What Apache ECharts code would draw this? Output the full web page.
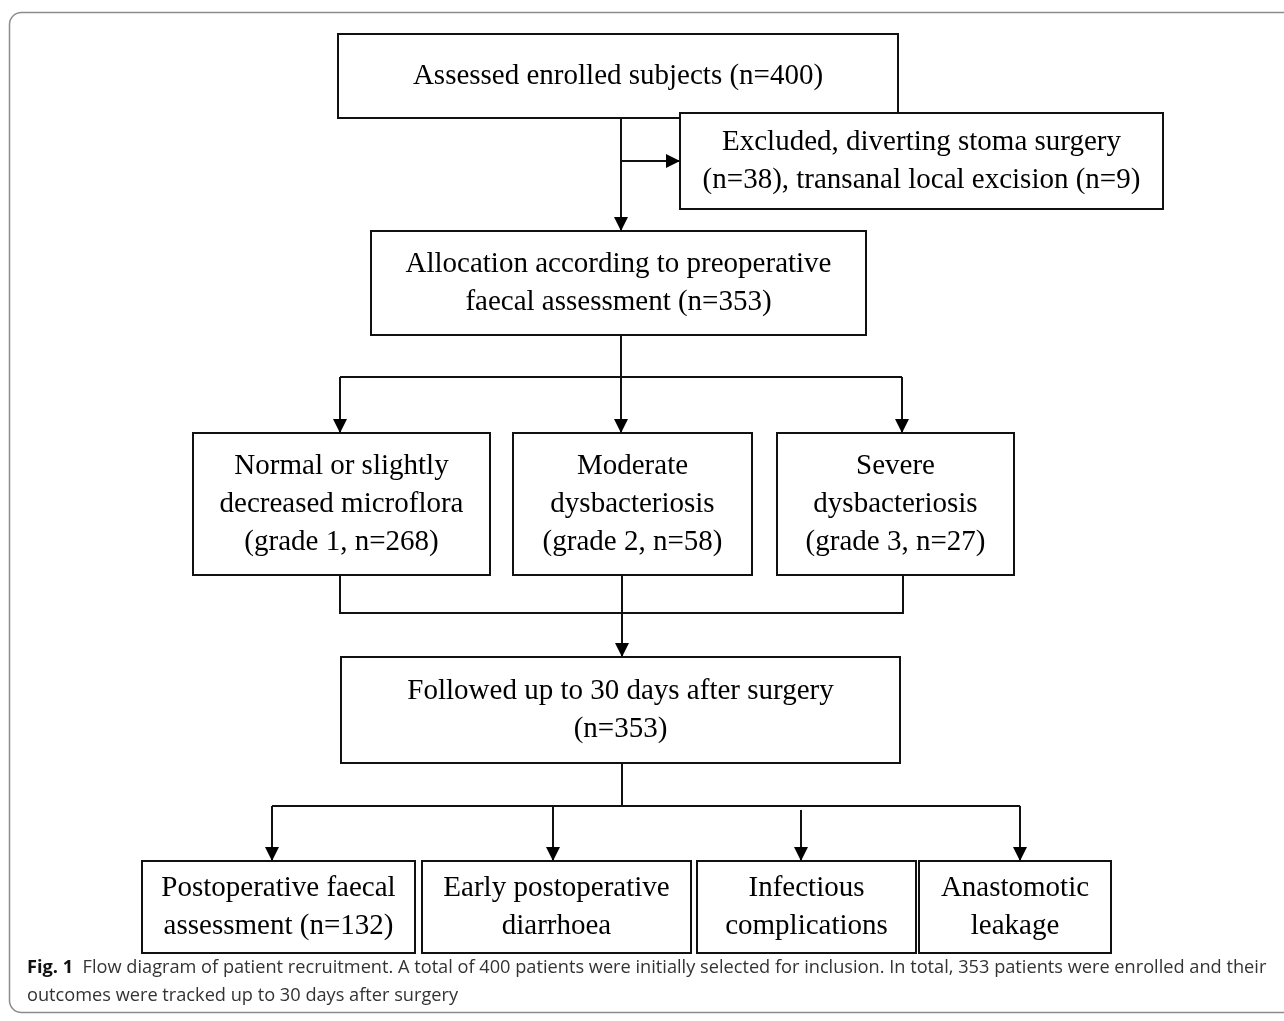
<!DOCTYPE html>
<html>
<head>
<meta charset="utf-8">
<script src="https://cdn.jsdelivr.net/npm/echarts@6/dist/echarts.min.js"></script>
<style>
  html, body { margin: 0; padding: 0; background: #fff; }
  #box { width: 1284px; height: 1021px; }
</style>
</head>
<body>
<div id="box"></div>
<script>
// flow diagram of patient recruitment ------------------------------------------
var boxTexts = [
    'Assessed enrolled subjects (n=400)',
    'Excluded, diverting stoma surgery\n(n=38), transanal local excision (n=9)',
    'Allocation according to preoperative\nfaecal assessment (n=353)',
    'Normal or slightly\ndecreased microflora\n(grade 1, n=268)',
    'Moderate\ndysbacteriosis\n(grade 2, n=58)',
    'Severe\ndysbacteriosis\n(grade 3, n=27)',
    'Followed up to 30 days after surgery\n(n=353)',
    'Postoperative faecal\nassessment (n=132)',
    'Early postoperative\ndiarrhoea',
    'Infectious\ncomplications',
    'Anastomotic\nleakage'
];
var captionLines = [
    'Flow diagram of patient recruitment. A total of 400 patients were initially selected for inclusion. In total, 353 patients were enrolled and their',
    'outcomes were tracked up to 30 days after surgery'
];

// layout (pixel units on hidden axes): [x0, y0, x1, y1]
var boxRects = [
    [338, 34, 898, 118],
    [680, 113, 1163, 209],
    [371, 231, 866, 335],
    [193, 433, 490, 575],
    [513, 433, 752, 575],
    [777, 433, 1014, 575],
    [341, 657, 900, 763],
    [142, 861, 415, 953],
    [422, 861, 691, 953],
    [697, 861, 916, 953],
    [919, 861, 1111, 953]
];
// connectors: points + whether the last point gets an arrow head
var connectors = [
    { pts: [[621, 118], [621, 231]], arrow: true },
    { pts: [[621, 161], [680, 161]], arrow: true },
    { pts: [[621, 335], [621, 377]], arrow: false },
    { pts: [[340, 377], [902, 377]], arrow: false },
    { pts: [[340, 377], [340, 433]], arrow: true },
    { pts: [[621, 377], [621, 433]], arrow: true },
    { pts: [[902, 377], [902, 433]], arrow: true },
    { pts: [[340, 575], [340, 613], [903, 613], [903, 575]], arrow: false },
    { pts: [[622, 575], [622, 657]], arrow: true },
    { pts: [[622, 763], [622, 806]], arrow: false },
    { pts: [[272, 806], [1020, 806]], arrow: false },
    { pts: [[272, 806], [272, 861]], arrow: true },
    { pts: [[553, 806], [553, 861]], arrow: true },
    { pts: [[801, 810], [801, 861]], arrow: true },
    { pts: [[1020, 806], [1020, 861]], arrow: true }
];

var myChart = echarts.init(document.getElementById('box'));

function renderBox(params, api) {
    var i = params.dataIndex;
    var p0 = api.coord([api.value(0), api.value(1)]);
    var p1 = api.coord([api.value(2), api.value(3)]);
    return {
        type: 'group',
        children: [
            {
                type: 'rect',
                shape: { x: p0[0], y: p0[1], width: p1[0] - p0[0], height: p1[1] - p0[1] },
                style: { fill: '#fff', stroke: '#111', lineWidth: 2 }
            },
            {
                type: 'text',
                style: {
                    text: boxTexts[i],
                    x: (p0[0] + p1[0]) / 2,
                    y: (p0[1] + p1[1]) / 2,
                    align: 'center',
                    verticalAlign: 'middle',
                    fontFamily: '"Liberation Serif", "Times New Roman", serif',
                    fontSize: 29,
                    lineHeight: 38,
                    fill: '#000'
                }
            }
        ]
    };
}

function renderLink(params, api) {
    var c = connectors[params.dataIndex];
    var pts = c.pts.map(function (p) { return api.coord(p); });
    var children = [{
        type: 'polyline',
        shape: { points: pts },
        style: { stroke: '#111', lineWidth: 2, fill: null }
    }];
    if (c.arrow) {
        var a = pts[pts.length - 2], b = pts[pts.length - 1];
        var dx = b[0] - a[0], dy = b[1] - a[1];
        var len = Math.sqrt(dx * dx + dy * dy);
        var ux = dx / len, uy = dy / len;
        var L = 14, W = 7;
        var bx = b[0] - ux * L, by = b[1] - uy * L;
        children.push({
            type: 'polygon',
            shape: { points: [[b[0], b[1]], [bx - uy * W, by + ux * W], [bx + uy * W, by - ux * W]] },
            style: { fill: '#000' }
        });
    }
    return { type: 'group', children: children };
}

var option = {
    animation: false,
    title: {
        left: 27,
        top: 954,
        padding: 0,
        text: '{b|Fig. 1}{n|  ' + captionLines[0] + '}\n{n|' + captionLines[1] + '}',
        textStyle: {
            fontWeight: 'normal',
            rich: {
                b: { fontFamily: 'Open Sans', fontWeight: 'bold', fontSize: 18.2, color: '#111', lineHeight: 28 },
                n: { fontFamily: 'Open Sans', fontWeight: 'normal', fontSize: 18.2, color: '#333', lineHeight: 28 }
            }
        }
    },
    graphic: [{
        type: 'rect',
        shape: { x: 9.5, y: 12.5, width: 1300, height: 1000, r: 12 },
        style: { fill: null, stroke: '#8c8c8c', lineWidth: 1.5 },
        z: -10
    }],
    grid: { left: 0, right: 0, top: 0, bottom: 0 },
    xAxis: { type: 'value', min: 0, max: 1284, show: false },
    yAxis: { type: 'value', min: 0, max: 1021, inverse: true, show: false },
    series: [
        {
            type: 'custom',
            renderItem: renderLink,
            clip: false,
            data: connectors.map(function (c) { return [c.pts[0][0], c.pts[0][1]]; }),
            z: 2
        },
        {
            type: 'custom',
            renderItem: renderBox,
            clip: false,
            data: boxRects,
            z: 3
        }
    ]
};

option && myChart.setOption(option);
</script>
</body>
</html>
